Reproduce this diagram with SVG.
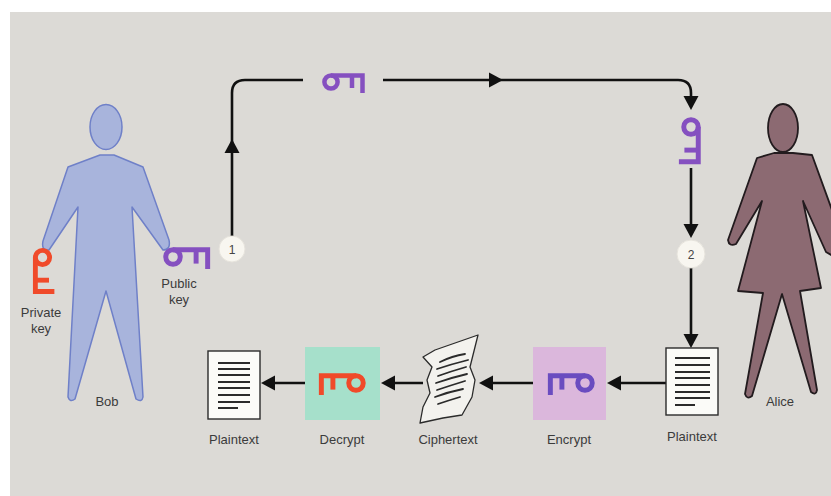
<svg xmlns="http://www.w3.org/2000/svg" xmlns:xlink="http://www.w3.org/1999/xlink" width="831" height="496" viewBox="0 0 831 496">
  <style>
    .lbl { font-family: "Liberation Sans", Arial, sans-serif; font-size: 13px; fill: #3b3b3b; text-anchor: middle; }
    .num { font-family: "Liberation Sans", Arial, sans-serif; font-size: 12px; fill: #444; text-anchor: middle; }
    .wire { fill: none; stroke: #111; stroke-width: 2.6; }
    .key { fill: none; stroke-width: 4.5; stroke-linecap: butt; stroke-linejoin: miter; }
    .pub { stroke: #8550c0; }
    .enc { stroke: #6a4cc0; }
    .priv { stroke: #f04a2a; }
    .doc { fill: #fbfbf8; stroke: #2b2b2b; stroke-width: 1.4; }
    .txt { stroke: #2b2b2b; stroke-width: 2; }
    .step { fill: #f8f6f0; stroke: #e6e3dc; stroke-width: 1; }
  </style>
  <defs>
    <!-- key glyph: ring on the left, bar along the top, two teeth hanging down -->
    <g id="keyShape">
      <circle cx="0" cy="0" r="6.6"/>
      <path d="M0 -6.6 H31.5 V11"/>
      <path d="M21 -6.6 V6"/>
    </g>
    <!-- arrowhead pointing right, tip at origin -->
    <polygon id="ah" points="0,0 -14,-7.5 -14,7.5" fill="#111"/>
  </defs>

  <!-- page -->
  <rect x="0" y="0" width="831" height="496" fill="#ffffff"/>
  <rect x="10" y="12" width="821" height="484" fill="#dcdad6"/>

  <!-- connectors -->
  <g id="connectors">
    <path class="wire" d="M232 236 V93 Q232 80 245 80 H303"/>
    <path class="wire" d="M383 80 H678 Q691 80 691 93 V100"/>
    <path class="wire" d="M691 168 V228"/>
    <path class="wire" d="M691 268 V338"/>
    <path class="wire" d="M666 383 H612"/>
    <path class="wire" d="M533 383 H484"/>
    <path class="wire" d="M423 383 H386"/>
    <path class="wire" d="M305 383 H266"/>
    <use xlink:href="#ah" href="#ah" transform="translate(232,139) rotate(-90)"/>
    <use xlink:href="#ah" href="#ah" transform="translate(503,80)"/>
    <use xlink:href="#ah" href="#ah" transform="translate(691,110) rotate(90)"/>
    <use xlink:href="#ah" href="#ah" transform="translate(691,238) rotate(90)"/>
    <use xlink:href="#ah" href="#ah" transform="translate(691,348) rotate(90)"/>
    <use xlink:href="#ah" href="#ah" transform="translate(607,383) rotate(180)"/>
    <use xlink:href="#ah" href="#ah" transform="translate(479,383) rotate(180)"/>
    <use xlink:href="#ah" href="#ah" transform="translate(381,383) rotate(180)"/>
    <use xlink:href="#ah" href="#ah" transform="translate(261,383) rotate(180)"/>
  </g>

  <!-- Bob -->
  <g id="bob">
    <ellipse cx="106" cy="127" rx="16" ry="22.5" fill="#a8b4dc" stroke="#6f80c8" stroke-width="1.5"/>
    <path d="M100 155 L114 155 L143 167 L169 240 Q171 250 163 250 L132 207 L143 397 Q142 403 136 399 L106 291 L75 399 Q70 403 68 397 L78 207 L49 250 Q41 251 43 241 L68 167 Z"
          fill="#a8b4dc" stroke="#6f80c8" stroke-width="1.5" stroke-linejoin="round"/>
    <text class="lbl" x="107" y="406">Bob</text>
  </g>

  <!-- Bob's private key -->
  <g id="private-key">
    <use xlink:href="#keyShape" href="#keyShape" class="key priv" transform="translate(42.5,257.5) scale(-1,1) rotate(90) scale(1.08)"/>
    <text class="lbl" x="41" y="317">Private</text>
    <text class="lbl" x="41" y="333">key</text>
  </g>

  <!-- Bob's public key -->
  <g id="public-key">
    <use xlink:href="#keyShape" href="#keyShape" class="key pub" transform="translate(173,257) scale(1.1)"/>
    <text class="lbl" x="179" y="288">Public</text>
    <text class="lbl" x="179" y="304">key</text>
  </g>

  <!-- public key in transit -->
  <g id="key-sent">
    <use xlink:href="#keyShape" href="#keyShape" class="key pub" transform="translate(331,82)"/>
  </g>
  <g id="key-received">
    <use xlink:href="#keyShape" href="#keyShape" class="key pub" transform="translate(691,127) rotate(90) scale(1.1)"/>
  </g>

  <!-- step markers -->
  <g id="step-1">
    <circle class="step" cx="232" cy="249" r="13"/>
    <text class="num" x="232" y="253.5">1</text>
  </g>
  <g id="step-2">
    <circle class="step" cx="691" cy="254" r="14"/>
    <text class="num" x="691" y="258.5">2</text>
  </g>

  <!-- Alice -->
  <g id="alice">
    <ellipse cx="783" cy="128" rx="15" ry="24" fill="#8c6a72" stroke="#221b1e" stroke-width="1.8"/>
    <path d="M774 153 L793 153 L812 155 L840 232 L840 260 L826 252 L803 201 L821 288 L800 291 L817 390 Q816 396 811 392 L782 294 L752 396 Q747 400 745 394 L763 293 L738 291 L762 201 L736 244 Q729 247 728 240 L757 158 Z"
          fill="#8c6a72" stroke="#221b1e" stroke-width="1.8" stroke-linejoin="round"/>
    <text class="lbl" x="780" y="406">Alice</text>
  </g>

  <!-- Alice's plaintext -->
  <g id="plaintext-alice">
    <rect class="doc" x="666" y="348" width="52" height="67"/>
    <path class="txt" d="M675 358 H710 M675 365 H710 M675 372 H710 M675 378 H710 M675 385 H710 M675 392 H710 M675 398 H710 M675 405 H695"/>
    <text class="lbl" x="692" y="441">Plaintext</text>
  </g>

  <!-- Encrypt -->
  <g id="encrypt">
    <rect x="533" y="347" width="73" height="73" fill="#dbb7dc"/>
    <use xlink:href="#keyShape" href="#keyShape" class="key enc" transform="translate(585,383) scale(-1.1,1.1)"/>
    <text class="lbl" x="569" y="444">Encrypt</text>
  </g>

  <!-- Ciphertext -->
  <g id="ciphertext">
    <path d="M435 350 L478 335 L470 367 L475 380 L472 397 L462 415 L443 418 L420 423 L423 407 L430 393 L427 380 L432 367 L423 357 Z"
          fill="#f3f2ee" stroke="#2b2b2b" stroke-width="1.3" stroke-linejoin="round"/>
    <path d="M440 362 Q452 356 465 354 M437 369 Q452 364 468 360 M438 376 Q452 371 466 367 M436 383 Q450 378 467 374 M437 390 Q452 385 465 381 M435 397 Q448 392 463 389 M438 404 Q450 400 460 397"
          fill="none" stroke="#2b2b2b" stroke-width="1.8" stroke-linecap="round"/>
    <text class="lbl" x="448" y="444">Ciphertext</text>
  </g>

  <!-- Decrypt -->
  <g id="decrypt">
    <rect x="305" y="347" width="75" height="73" fill="#a6e0cb"/>
    <use xlink:href="#keyShape" href="#keyShape" class="key priv" transform="translate(356,383) scale(-1.1,1.1)"/>
    <text class="lbl" x="342" y="444">Decrypt</text>
  </g>

  <!-- Bob's plaintext -->
  <g id="plaintext-bob">
    <rect class="doc" x="208" y="351" width="52" height="68"/>
    <path class="txt" d="M218 363 H250 M218 369 H250 M218 375 H250 M218 382 H250 M218 388 H250 M218 395 H250 M218 402 H250 M218 408 H238"/>
    <text class="lbl" x="234" y="444">Plaintext</text>
  </g>
</svg>
